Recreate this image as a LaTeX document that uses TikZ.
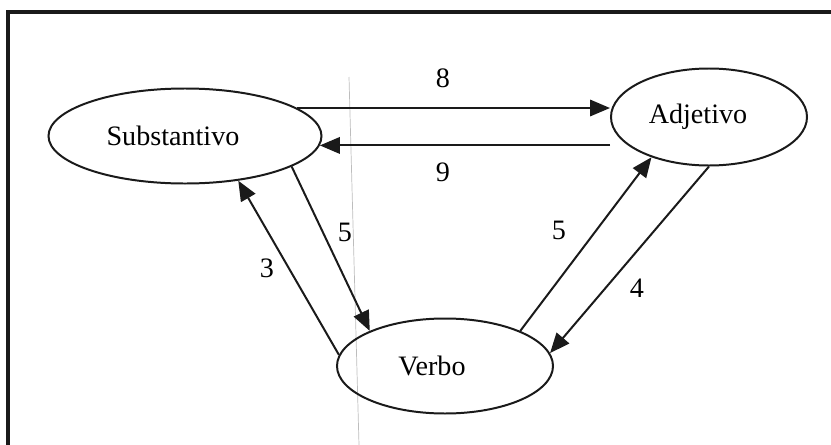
\documentclass[tikz,border=0pt]{standalone}
\usepackage{fontspec}
\setmainfont{Liberation Serif}
\usetikzlibrary{shapes.geometric,arrows.meta}
\definecolor{ink}{HTML}{1A1A1A}
\definecolor{scanline}{HTML}{BDBDBD}

\begin{document}
\begin{tikzpicture}[x=.03cm,y=-.03cm,
	word/.style={font=\fontsize{24}{28}\selectfont},
	ell/.style={draw=ink,line width=1.7pt,ellipse,inner sep=0pt},
	arr/.style={draw=ink,line width=1.7pt,-{Triangle[length=17pt,width=14pt]}}]
\useasboundingbox (0,0) rectangle (831,445);
\draw[scanline,line width=.6pt] (349,77) -- (359,445);
\draw[ink,line width=2.6pt] (8,445) |- (831,12);
% the three word classes
\node[ell,minimum width=8.19cm,minimum height=2.85cm,label={[word,xshift=-.36cm]center:Substantivo}] (sub) at (185,136) {};
\node[ell,minimum width=5.88cm,minimum height=2.91cm,label={[word,xshift=-.33cm]center:Adjetivo}] (adj) at (709,117) {};
\node[ell,minimum width=6.48cm,minimum height=2.85cm,label={[word,xshift=-.39cm]center:Verbo}] (ver) at (445,366) {};
% transitions
\draw[arr] (sub.14) -- (sub.14 -| adj.west);
\draw[arr] (sub.-4 -| adj.west) -- (sub.-4);
\draw[arr] (sub.-16) -- (ver.155);
\draw[arr] (ver.174) -- (sub.-40);
\draw[arr] (ver.25) -- (adj.-145);
\draw[arr] (adj.south) -- (ver.7);
\foreach \t/\x/\y [count=\i] in {8/443/78,9/443/172,5/345/232,3/267/268,5/559/230,4/637/288}
	\node[word] (lab\i) at (\x,\y) {\t};
\end{tikzpicture}
\end{document}
